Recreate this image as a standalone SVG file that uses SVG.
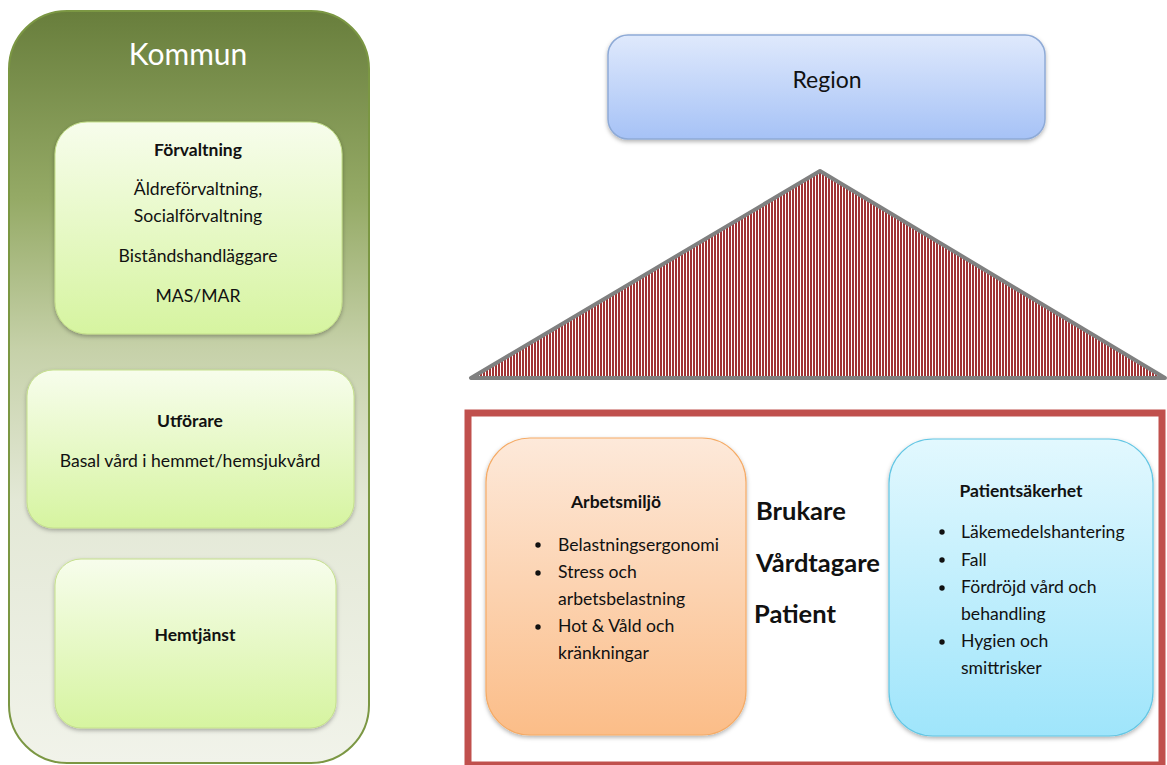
<svg xmlns="http://www.w3.org/2000/svg" width="1167" height="765" viewBox="0 0 1167 765">
<style>
text{font-family:Lato,"Open Sans","Liberation Sans",sans-serif;fill:#111}
.t{font-size:17.6px}
.b{font-size:17.5px;font-weight:bold}
.big{font-size:25.5px;font-weight:bold}
.c{text-anchor:middle}
</style>
<defs>
<linearGradient id="gK" x1="0" y1="0" x2="0" y2="1">
<stop offset="0" stop-color="#687e3c"/>
<stop offset="0.25" stop-color="#95aa66"/>
<stop offset="0.45" stop-color="#c6d1a9"/>
<stop offset="0.65" stop-color="#e3e8d6"/>
<stop offset="1" stop-color="#f1f3ea"/>
</linearGradient>
<linearGradient id="gG" x1="0" y1="0" x2="0" y2="1">
<stop offset="0" stop-color="#f7fdec"/>
<stop offset="1" stop-color="#d6f4a0"/>
</linearGradient>
<linearGradient id="gR" x1="0" y1="0" x2="0" y2="1">
<stop offset="0" stop-color="#dfe9fc"/>
<stop offset="1" stop-color="#a6c2f6"/>
</linearGradient>
<linearGradient id="gO" x1="0" y1="0" x2="0" y2="1">
<stop offset="0" stop-color="#fde9da"/>
<stop offset="1" stop-color="#fbbd88"/>
</linearGradient>
<linearGradient id="gB" x1="0" y1="0" x2="0" y2="1">
<stop offset="0" stop-color="#e2f8fe"/>
<stop offset="1" stop-color="#9fe5fb"/>
</linearGradient>
<pattern id="stripes" width="3" height="10" patternUnits="userSpaceOnUse">
<rect width="3" height="10" fill="#ffffff"/>
<rect width="2" height="10" fill="#a03234"/>
</pattern>
<filter id="sh" x="-10%" y="-10%" width="120%" height="125%">
<feDropShadow dx="0" dy="2" stdDeviation="2" flood-color="#000" flood-opacity="0.3"/>
</filter>
</defs>

<g id="kommun">
<rect x="9" y="11" width="360" height="752" rx="58" fill="url(#gK)" stroke="#7b9743" stroke-width="2"/>
<text x="188" y="65" class="c" style="font-size:30px;fill:#fff">Kommun</text>
</g>

<g id="forvaltning">
<rect x="55" y="122" width="287" height="212" rx="32" fill="url(#gG)" stroke="#c5e08c" stroke-width="1" filter="url(#sh)"/>
<text x="198" y="156" class="b c">Förvaltning</text>
<text x="198" y="195" class="t c">Äldreförvaltning,</text>
<text x="198" y="222" class="t c">Socialförvaltning</text>
<text x="198" y="262" class="t c">Biståndshandläggare</text>
<text x="198" y="302" class="t c">MAS/MAR</text>
</g>

<g id="utforare">
<rect x="27" y="370" width="327" height="158" rx="26" fill="url(#gG)" stroke="#c5e08c" stroke-width="1" filter="url(#sh)"/>
<text x="190" y="427" class="b c">Utförare</text>
<text x="190" y="467" class="t c">Basal vård i hemmet/hemsjukvård</text>
</g>

<g id="hemtjanst">
<rect x="55" y="559" width="281" height="169" rx="26" fill="url(#gG)" stroke="#c5e08c" stroke-width="1" filter="url(#sh)"/>
<text x="195" y="641" class="b c">Hemtjänst</text>
</g>

<g id="region">
<rect x="608" y="35" width="437" height="104" rx="20" fill="url(#gR)" stroke="#8eaad6" stroke-width="1.5" filter="url(#sh)"/>
<text x="827" y="88" class="c" style="font-size:23px">Region</text>
</g>

<g id="roof">
<polygon points="820,171 471,378 1165,378" fill="url(#stripes)" stroke="#808080" stroke-width="4" stroke-linejoin="round"/>
</g>

<g id="house">
<rect x="468" y="413" width="694" height="352" fill="#fff" stroke="#c0504d" stroke-width="7"/>
</g>

<g id="arbetsmiljo">
<rect x="486" y="438" width="260" height="297" rx="44" fill="url(#gO)" stroke="#f5ab66" stroke-width="1.2" filter="url(#sh)"/>
<text x="616" y="508" class="b c">Arbetsmiljö</text>
<circle cx="538" cy="545" r="2.7" fill="#111"/>
<text x="558" y="551" class="t">Belastningsergonomi</text>
<circle cx="538" cy="573" r="2.7" fill="#111"/>
<text x="558" y="578" class="t">Stress och</text>
<text x="558" y="605" class="t">arbetsbelastning</text>
<circle cx="538" cy="627" r="2.7" fill="#111"/>
<text x="558" y="632" class="t">Hot &amp; Våld och</text>
<text x="558" y="659" class="t">kränkningar</text>
</g>

<g id="mid">
<text x="756" y="520" class="big">Brukare</text>
<text x="756" y="572" class="big">Vårdtagare</text>
<text x="754" y="623" class="big">Patient</text>
</g>

<g id="patientsakerhet">
<rect x="889" y="439" width="264" height="297" rx="44" fill="url(#gB)" stroke="#62c6e4" stroke-width="1.2" filter="url(#sh)"/>
<text x="1021" y="497" class="b c">Patientsäkerhet</text>
<circle cx="942" cy="532" r="2.7" fill="#111"/>
<text x="961" y="538" class="t">Läkemedelshantering</text>
<circle cx="942" cy="560" r="2.7" fill="#111"/>
<text x="961" y="566" class="t">Fall</text>
<circle cx="942" cy="588" r="2.7" fill="#111"/>
<text x="961" y="593" class="t">Fördröjd vård och</text>
<text x="961" y="620" class="t">behandling</text>
<circle cx="942" cy="642" r="2.7" fill="#111"/>
<text x="961" y="647" class="t">Hygien och</text>
<text x="961" y="674" class="t">smittrisker</text>
</g>

<g id="connectors"></g>
</svg>
